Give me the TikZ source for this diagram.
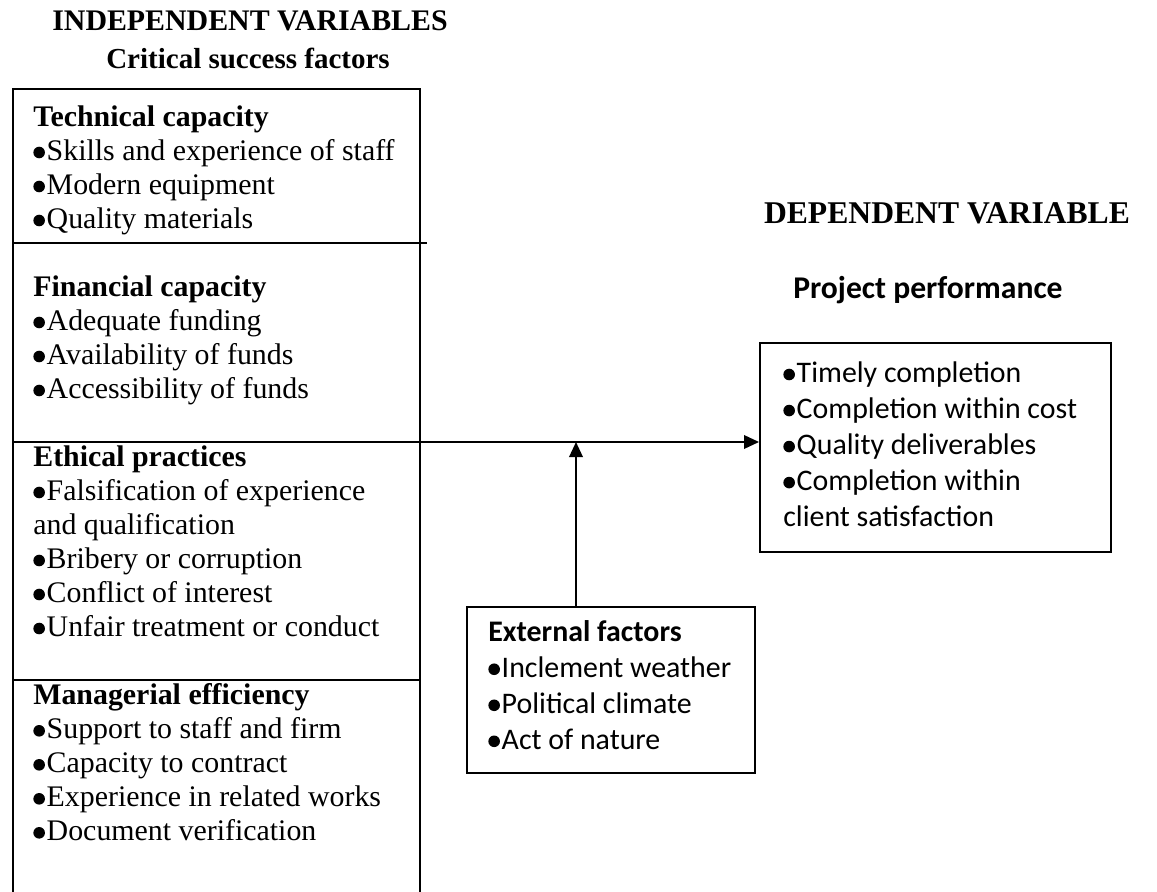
\documentclass[tikz,border=0pt]{standalone}
\usepackage{fontspec}
\setmainfont{Liberation Serif}
\newfontfamily\calfont{Carlito}
\usetikzlibrary{arrows.meta, positioning}
\newcommand{\vbul}{\tikz[baseline=-4.6pt]\fill (0,0) circle (3.3pt);\kern0.06em}

\begin{document}
\begin{tikzpicture}[
  vbox/.style={rectangle, draw, line width=1.1pt, inner sep=0pt},
  vhead/.style={font=\fontsize{17}{20}\selectfont\bfseries, anchor=base, inner sep=0pt},
  vlist/.style={font=\fontsize{17}{19.35}\selectfont, align=left, anchor=north west, inner sep=0pt},
  vlistsf/.style={font=\calfont\fontsize{17}{20.5}\selectfont, align=left, anchor=north west, inner sep=0pt},
  vline/.style={line width=1.1pt},
  varrow/.style={line width=1.1pt, -{Triangle[length=0.3cm, width=0.27cm]}}
]
\useasboundingbox (0,0) rectangle (23.14,-17.84);

% Titles
\node[vhead] (indep) at (5.00,-0.60) {INDEPENDENT VARIABLES};
\node[vhead, font=\fontsize{16.5}{20}\selectfont\bfseries] (csf) at (4.96,-1.36) {Critical success factors};
\node[vhead, font=\fontsize{18}{21}\selectfont\bfseries] (dep) at (18.94,-4.46) {DEPENDENT VARIABLE};
\node[vhead, font=\calfont\fontsize{18}{21}\selectfont\bfseries] (pp) at (18.56,-5.96) {Project performance};

% Left: critical success factors (open at the bottom)
\node[vbox, anchor=north west, minimum width=8.14cm, minimum height=16.4cm] (csfbox) at (0.24,-1.76) {};
\coordinate (div1) at (0.24,-4.86);
\coordinate (div2) at (0.24,-8.84);
\coordinate (div3) at (0.24,-13.60);
\draw[vline] (div1) -- ++(8.30,0);
\draw[vline] (div3) -- (div3 -| csfbox.east);

\node[vlist] (tech) at (0.66,-2.11) {
  \textbf{Technical capacity}\\
  \vbul Skills and experience of staff\\
  \vbul Modern equipment\\
  \vbul Quality materials
};
\node[vlist] (fin) at (0.66,-5.51) {
  \textbf{Financial capacity}\\
  \vbul Adequate funding\\
  \vbul Availability of funds\\
  \vbul Accessibility of funds
};
\node[vlist] (eth) at (0.66,-8.91) {
  \textbf{Ethical practices}\\
  \vbul Falsification of experience\\
  and qualification\\
  \vbul Bribery or corruption\\
  \vbul Conflict of interest\\
  \vbul Unfair treatment or conduct
};
\node[vlist] (man) at (0.66,-13.67) {
  \textbf{Managerial efficiency}\\
  \vbul Support to staff and firm\\
  \vbul Capacity to contract\\
  \vbul Experience in related works\\
  \vbul Document verification
};

% Right: project performance
\node[vbox, minimum width=7.02cm, minimum height=4.18cm] (ppbox) at (18.71,-8.95) {};
\node[vlistsf] (ppitems) at (15.66,-7.23) {
  \vbul Timely completion\\
  \vbul Completion within cost\\
  \vbul Quality deliverables\\
  \vbul Completion within\\
  client satisfaction
};

% Bottom middle: external factors
\node[vbox, minimum width=5.76cm, minimum height=3.32cm] (extbox) at (12.22,-13.80) {};
\node[vlistsf] (extitems) at (9.76,-12.40) {
  \textbf{External factors}\\
  \vbul Inclement weather\\
  \vbul Political climate\\
  \vbul Act of nature
};

% Arrows
\coordinate (meet) at (11.52,-8.84);
\draw[varrow] (div2) -- (div2 -| ppbox.west);
\draw[varrow] (extbox.north -| meet) -- (meet);
\end{tikzpicture}
\end{document}
